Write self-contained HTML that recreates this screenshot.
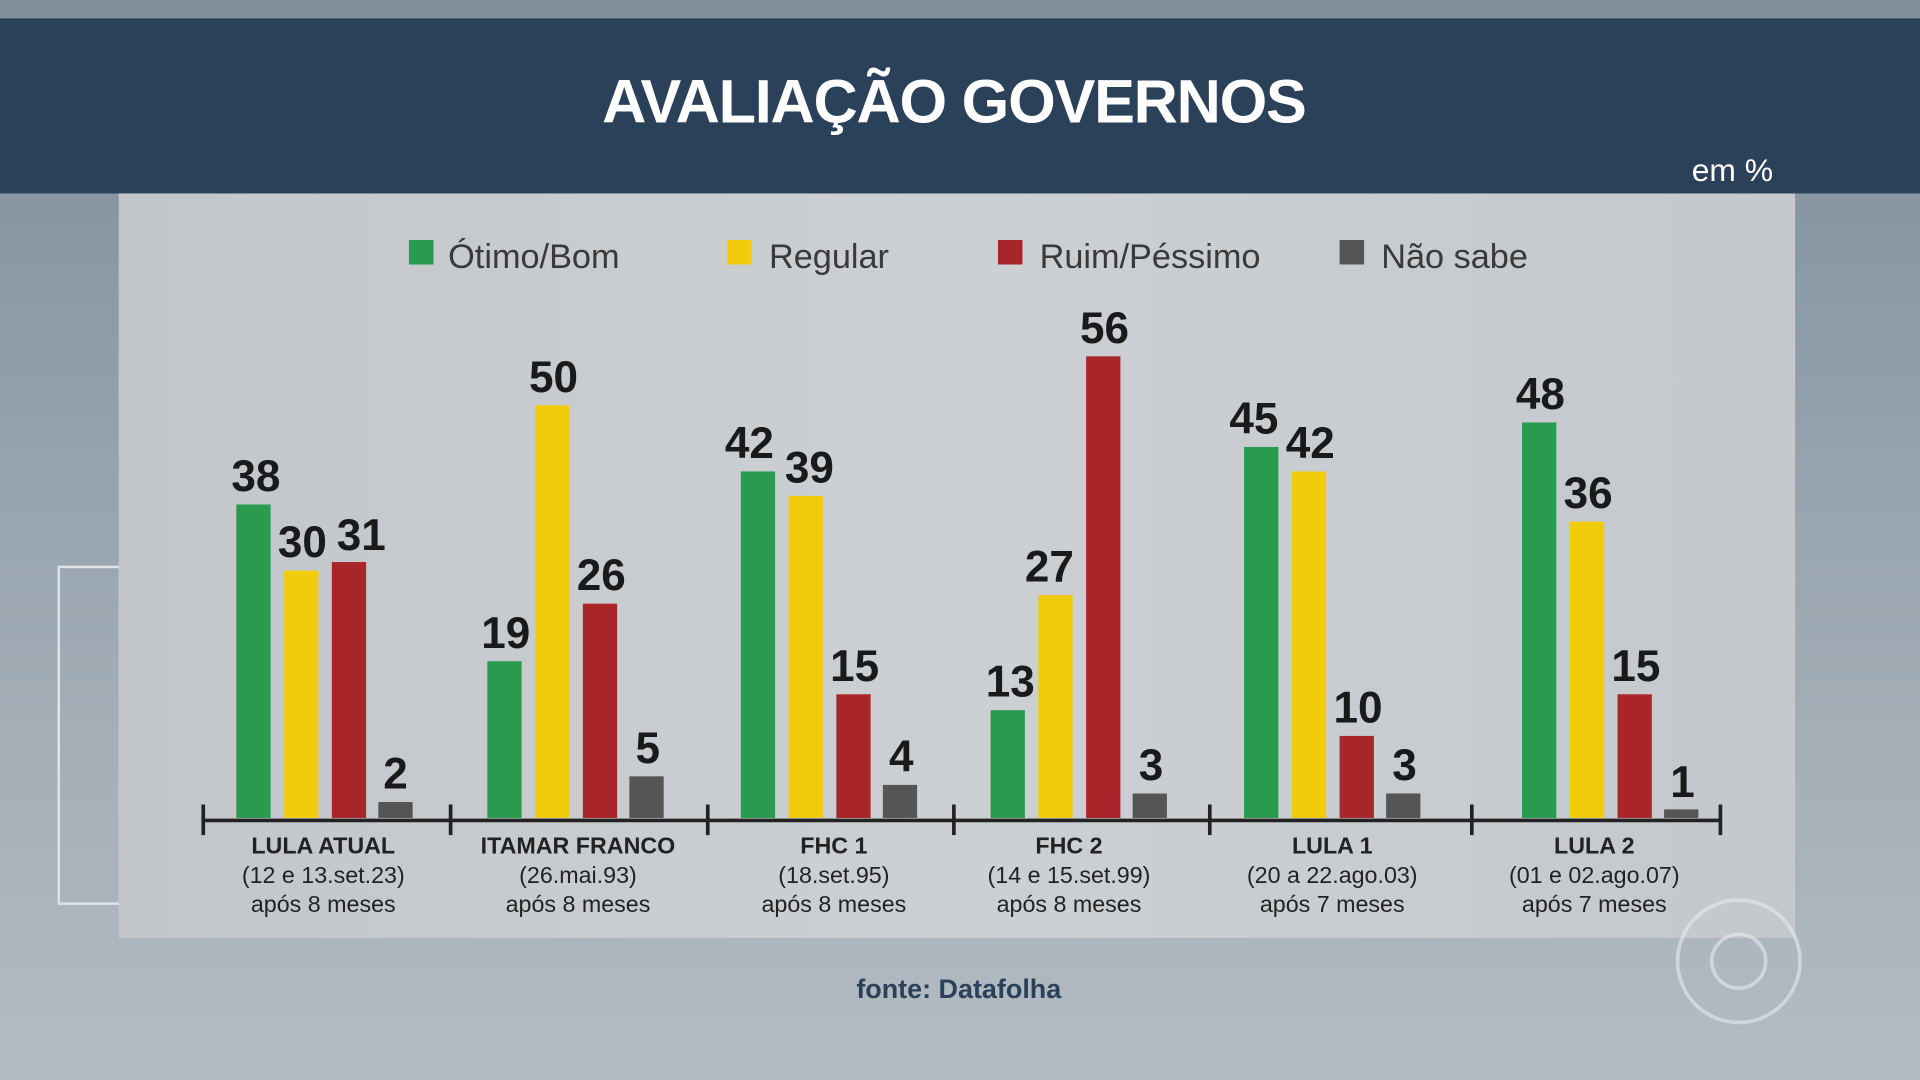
<!DOCTYPE html>
<html><head><meta charset="utf-8"><style>
html,body{margin:0;padding:0;width:1920px;height:1080px;overflow:hidden;background:#8f9ca8}
svg{display:block}
text{font-family:"Liberation Sans",sans-serif}
</style></head><body>
<svg width="1920" height="1080" viewBox="0 0 1568 882" preserveAspectRatio="none">
<defs>
<linearGradient id="bg" x1="0" y1="0" x2="0" y2="1">
<stop offset="0" stop-color="#7d8d9a"/><stop offset="0.5" stop-color="#9aa6b0"/><stop offset="1" stop-color="#b4bcc3"/></linearGradient>
<linearGradient id="pn" x1="0" y1="0" x2="1" y2="0">
<stop offset="0" stop-color="#c2c6ca"/><stop offset="0.5" stop-color="#cdd0d3"/><stop offset="1" stop-color="#c4c8cc"/></linearGradient>
</defs>
<rect width="1568" height="882" fill="url(#bg)"/>
<rect x="0" y="15" width="1568" height="143" fill="#2b4159"/>
<text x="779" y="100" text-anchor="middle" font-size="50" font-weight="bold" fill="#fff" letter-spacing="-1">AVALIAÇÃO GOVERNOS</text>
<text x="1448" y="148" text-anchor="end" font-size="26" fill="#fff">em %</text>
<rect x="48" y="463" width="50" height="275" fill="none" stroke="#dfe4e8" stroke-width="2"/>
<rect x="97" y="158" width="1369" height="608" fill="url(#pn)"/>
<g font-size="28" fill="#3a3a3a">
<rect x="334" y="196" width="20" height="20" fill="#2a9a4e"/><text x="366" y="219">Ótimo/Bom</text>
<rect x="594" y="196" width="20" height="20" fill="#f0cc0a"/><text x="628" y="219">Regular</text>
<rect x="815" y="196" width="20" height="20" fill="#a8262a"/><text x="849" y="219">Ruim/Péssimo</text>
<rect x="1094" y="196" width="20" height="20" fill="#555"/><text x="1128" y="219">Não sabe</text>
</g>
<g id="bars" font-size="34" font-weight="bold" fill="#1a1a1a" text-anchor="middle"></g>
<line x1="165" y1="670" x2="1405" y2="670" stroke="#222" stroke-width="3"/>
<g stroke="#222" stroke-width="3">
<line x1="166" y1="657" x2="166" y2="682"/><line x1="368" y1="657" x2="368" y2="682"/><line x1="578" y1="657" x2="578" y2="682"/><line x1="779" y1="657" x2="779" y2="682"/><line x1="988" y1="657" x2="988" y2="682"/><line x1="1202" y1="657" x2="1202" y2="682"/><line x1="1405" y1="657" x2="1405" y2="682"/>
</g>
<g font-size="19" fill="#222" text-anchor="middle">
<text x="264" y="697" font-weight="bold">LULA ATUAL</text><text x="264" y="721">(12 e 13.set.23)</text><text x="264" y="745">após 8 meses</text>
<text x="472" y="697" font-weight="bold">ITAMAR FRANCO</text><text x="472" y="721">(26.mai.93)</text><text x="472" y="745">após 8 meses</text>
<text x="681" y="697" font-weight="bold">FHC 1</text><text x="681" y="721">(18.set.95)</text><text x="681" y="745">após 8 meses</text>
<text x="873" y="697" font-weight="bold">FHC 2</text><text x="873" y="721">(14 e 15.set.99)</text><text x="873" y="745">após 8 meses</text>
<text x="1088" y="697" font-weight="bold">LULA 1</text><text x="1088" y="721">(20 a 22.ago.03)</text><text x="1088" y="745">após 7 meses</text>
<text x="1302" y="697" font-weight="bold">LULA 2</text><text x="1302" y="721">(01 e 02.ago.07)</text><text x="1302" y="745">após 7 meses</text>
</g>
<circle cx="1420" cy="785" r="50" fill="none" stroke="#e6eaee" stroke-width="3" opacity="0.6"/>
<circle cx="1420" cy="785" r="22" fill="none" stroke="#e6eaee" stroke-width="3" opacity="0.6"/>
<text x="783" y="815" text-anchor="middle" font-size="22" font-weight="bold" fill="#2b4159">fonte: Datafolha</text>
<g fill="#1a1a1a" font-size="36" font-weight="bold" text-anchor="middle">
<!-- Lula atual -->
<rect x="193" y="412" width="28" height="256" fill="#2a9a4e"/><text x="209" y="401">38</text>
<rect x="232" y="466" width="28" height="202" fill="#f0cc0a"/><text x="247" y="455">30</text>
<rect x="271" y="459" width="28" height="209" fill="#a8262a"/><text x="295" y="449">31</text>
<rect x="309" y="655" width="28" height="13" fill="#555"/><text x="323" y="644">2</text>
<!-- Itamar -->
<rect x="398" y="540" width="28" height="128" fill="#2a9a4e"/><text x="413" y="529">19</text>
<rect x="437" y="331" width="28" height="337" fill="#f0cc0a"/><text x="452" y="320">50</text>
<rect x="476" y="493" width="28" height="175" fill="#a8262a"/><text x="491" y="482">26</text>
<rect x="514" y="634" width="28" height="34" fill="#555"/><text x="529" y="623">5</text>
<!-- FHC1 -->
<rect x="605" y="385" width="28" height="283" fill="#2a9a4e"/><text x="612" y="374">42</text>
<rect x="644" y="405" width="28" height="263" fill="#f0cc0a"/><text x="661" y="394">39</text>
<rect x="683" y="567" width="28" height="101" fill="#a8262a"/><text x="698" y="556">15</text>
<rect x="721" y="641" width="28" height="27" fill="#555"/><text x="736" y="630">4</text>
<!-- FHC2 -->
<rect x="809" y="580" width="28" height="88" fill="#2a9a4e"/><text x="825" y="569">13</text>
<rect x="848" y="486" width="28" height="182" fill="#f0cc0a"/><text x="857" y="475">27</text>
<rect x="887" y="291" width="28" height="377" fill="#a8262a"/><text x="902" y="280">56</text>
<rect x="925" y="648" width="28" height="20" fill="#555"/><text x="940" y="637">3</text>
<!-- Lula1 -->
<rect x="1016" y="365" width="28" height="303" fill="#2a9a4e"/><text x="1024" y="354">45</text>
<rect x="1055" y="385" width="28" height="283" fill="#f0cc0a"/><text x="1070" y="374">42</text>
<rect x="1094" y="601" width="28" height="67" fill="#a8262a"/><text x="1109" y="590">10</text>
<rect x="1132" y="648" width="28" height="20" fill="#555"/><text x="1147" y="637">3</text>
<!-- Lula2 -->
<rect x="1243" y="345" width="28" height="323" fill="#2a9a4e"/><text x="1258" y="334">48</text>
<rect x="1282" y="426" width="28" height="242" fill="#f0cc0a"/><text x="1297" y="415">36</text>
<rect x="1321" y="567" width="28" height="101" fill="#a8262a"/><text x="1336" y="556">15</text>
<rect x="1359" y="661" width="28" height="7" fill="#555"/><text x="1374" y="651">1</text>
</g>
</svg>
</body></html>
